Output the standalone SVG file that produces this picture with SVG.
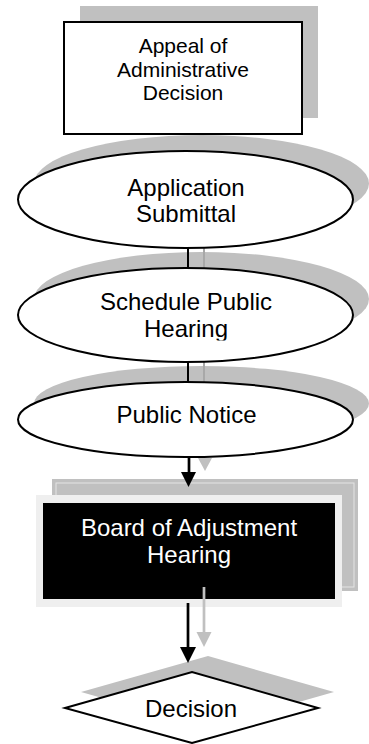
<svg xmlns="http://www.w3.org/2000/svg" width="369" height="744" viewBox="0 0 369 744">
<style>
.sh{fill:#c0c0c0;stroke:none}
.node{fill:#fff;stroke:#000;stroke-width:2}
.t{font-family:"Liberation Sans",Arial,sans-serif;font-size:24px;text-anchor:middle;fill:#000}
.c{stroke:#000;stroke-width:2;fill:none}
.cs{stroke:#a8a8a8;stroke-width:2;fill:none}
.a{stroke:#000;stroke-width:2.7;fill:none}
.as{stroke:#c0c0c0;stroke-width:2.7;fill:none}
</style>
<defs>
<clipPath id="clipH"><rect x="0" y="260" width="369" height="80.5"/></clipPath>
</defs>
<rect width="369" height="744" fill="#fff"/>

<g id="shadows">
<rect class="sh" x="80" y="6" width="238" height="112"/>
<ellipse class="sh" cx="201.5" cy="183.5" rx="167.5" ry="48.5"/>
<ellipse class="sh" cx="201.5" cy="299" rx="167.5" ry="47"/>
<ellipse class="sh" cx="201.5" cy="403.5" rx="167.5" ry="37.5"/>
</g>

<g id="connector-shadows">
<line class="cs" x1="204" y1="246" x2="204" y2="272"/>
<line class="cs" x1="204" y1="359" x2="204" y2="386"/>
</g>

<g id="appeal">
<rect class="node" x="64" y="22" width="238" height="112"/>
<text class="t" style="font-size:21px" x="183" y="53">Appeal of</text>
<text class="t" style="font-size:21px" x="183" y="77">Administrative</text>
<text class="t" style="font-size:21px" x="183" y="100">Decision</text>
</g>

<g id="application">
<ellipse class="node" cx="185.5" cy="199.5" rx="167.5" ry="48.5"/>
<text class="t" x="186" y="196">Application</text>
<text class="t" x="186" y="222">Submittal</text>
</g>

<g id="schedule">
<ellipse class="node" cx="185.5" cy="315" rx="167.5" ry="47"/>
<g clip-path="url(#clipH)">
<text class="t" x="186" y="310">Schedule Public</text>
<text class="t" x="186" y="336.5">Hearing</text>
</g>
</g>

<g id="notice">
<ellipse class="node" cx="185.5" cy="419.5" rx="167.5" ry="37.5"/>
<text class="t" x="186.5" y="423">Public Notice</text>
</g>

<g id="board">
<rect x="52" y="479" width="306" height="112" fill="#c0c0c0"/>
<rect x="56" y="483" width="298" height="104" fill="none" stroke="#e4e4e4" stroke-width="1"/>
<rect x="36" y="495" width="306" height="112" fill="#efefef"/>
<rect x="43" y="503" width="292" height="96" fill="#000"/>
<text class="t" x="189" y="536" fill="#fff" style="fill:#fff">Board of Adjustment</text>
<text class="t" x="189" y="563" style="fill:#fff">Hearing</text>
</g>

<g id="decision">
<polygon class="sh" points="81,692 208,656 334,692 208,728"/>
<polygon class="node" points="65,708 192,672 318,708 192,743"/>
<text class="t" x="191" y="717">Decision</text>
</g>

<g id="connectors">
<line class="c" x1="188" y1="248" x2="188" y2="268"/>
<line class="c" x1="188" y1="362" x2="188" y2="382"/>
<polygon fill="#c0c0c0" points="198,458 212,458 205,471"/>
<line class="a" x1="189" y1="457" x2="189" y2="473"/>
<polygon fill="#000" points="181,472 196,472 188.5,487"/>
<line class="as" x1="204" y1="587" x2="204" y2="633"/>
<polygon fill="#c0c0c0" points="196.5,632 211.5,632 204,647"/>
<line class="a" x1="188" y1="603" x2="188" y2="648"/>
<polygon fill="#000" points="180,647 196,647 188,663"/>
</g>
</svg>
